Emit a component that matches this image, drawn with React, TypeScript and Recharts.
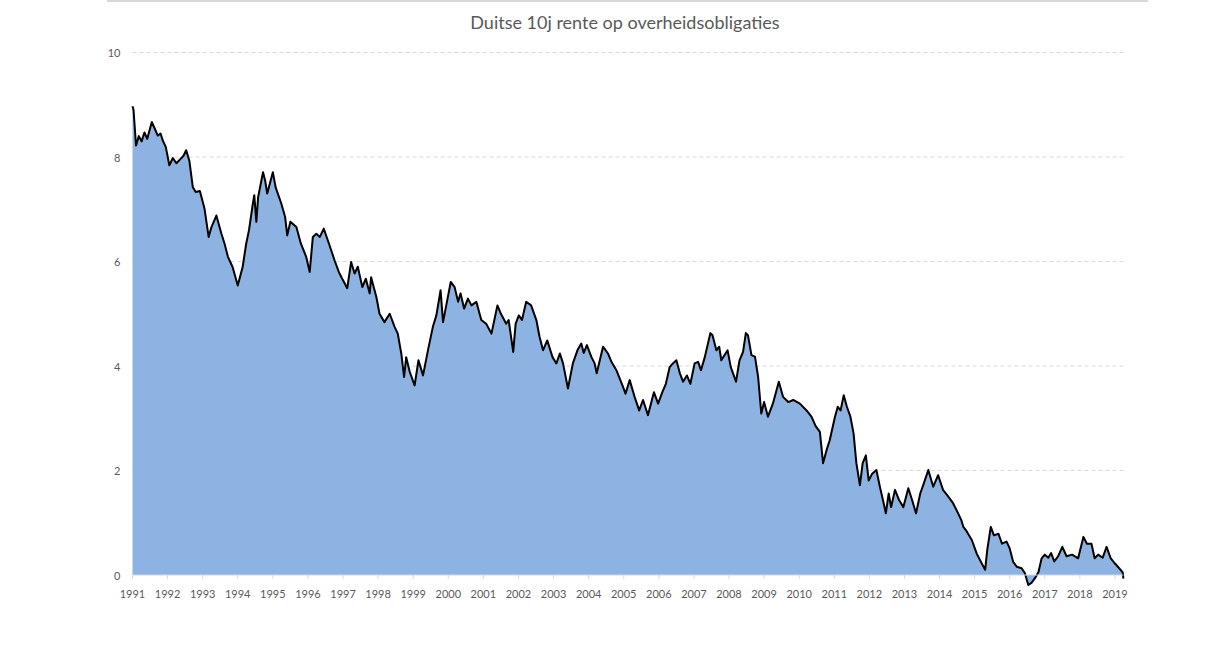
import { AreaChart, Area, XAxis, YAxis, CartesianGrid, ReferenceLine } from "recharts";

// decimal year of each reading
const dates = [
  1991.0, 1991.03, 1991.1, 1991.18, 1991.26, 1991.34, 1991.42, 1991.55, 1991.63, 1991.72, 1991.8, 1991.86, 1991.95,
  1992.05, 1992.15, 1992.25, 1992.35, 1992.45, 1992.53, 1992.62, 1992.72, 1992.8, 1992.92,
  1993.05, 1993.17, 1993.25, 1993.39, 1993.53, 1993.62, 1993.72, 1993.85,
  1994.0, 1994.14, 1994.24, 1994.32, 1994.43, 1994.47, 1994.53, 1994.58, 1994.72, 1994.78, 1994.84,
  1995.0, 1995.08, 1995.24, 1995.35, 1995.41, 1995.5, 1995.67, 1995.8, 1995.95,
  1996.05, 1996.14, 1996.24, 1996.34, 1996.45, 1996.6, 1996.76, 1996.88,
  1997.0, 1997.12, 1997.23, 1997.33, 1997.42, 1997.55, 1997.65, 1997.76, 1997.8, 1997.95,
  1998.04, 1998.18, 1998.33, 1998.47, 1998.56, 1998.66, 1998.74, 1998.8, 1998.9,
  1999.04, 1999.15, 1999.28, 1999.42, 1999.56, 1999.66, 1999.78, 1999.85, 1999.95,
  2000.07, 2000.18, 2000.28, 2000.35, 2000.45, 2000.56, 2000.66, 2000.8, 2000.94,
  2001.08, 2001.23, 2001.4, 2001.5, 2001.65, 2001.72, 2001.85, 2001.92,
  2002.01, 2002.1, 2002.22, 2002.36, 2002.51, 2002.6, 2002.7, 2002.82, 2002.97,
  2003.08, 2003.18, 2003.27, 2003.41, 2003.55, 2003.68, 2003.79, 2003.86, 2003.95,
  2004.08, 2004.17, 2004.23, 2004.41, 2004.55, 2004.65, 2004.79, 2004.98,
  2005.05, 2005.17, 2005.31, 2005.44, 2005.55, 2005.69, 2005.86, 2005.98,
  2006.1, 2006.2, 2006.31, 2006.4, 2006.5, 2006.6, 2006.69, 2006.8, 2006.9,
  2007.02, 2007.12, 2007.2, 2007.31, 2007.47, 2007.53, 2007.64, 2007.72, 2007.78, 2007.96,
  2008.05, 2008.2, 2008.3, 2008.4, 2008.48, 2008.54, 2008.64, 2008.74, 2008.83, 2008.92,
  2009.0, 2009.11, 2009.25, 2009.42, 2009.54, 2009.69, 2009.83,
  2010.02, 2010.21, 2010.35, 2010.47, 2010.59, 2010.68, 2010.78, 2010.87,
  2011.02, 2011.1, 2011.18, 2011.27, 2011.36, 2011.46, 2011.55, 2011.63, 2011.73, 2011.81, 2011.9, 2011.98,
  2012.08, 2012.2, 2012.3, 2012.41, 2012.47, 2012.55, 2012.62, 2012.73, 2012.85, 2012.97,
  2013.11, 2013.22, 2013.33, 2013.45, 2013.55, 2013.68, 2013.82, 2013.96,
  2014.1, 2014.25, 2014.39, 2014.53, 2014.62, 2014.68, 2014.75, 2014.92,
  2015.06, 2015.15, 2015.3, 2015.36, 2015.46, 2015.55, 2015.68, 2015.78, 2015.91,
  2016.0, 2016.1, 2016.2, 2016.34, 2016.43, 2016.53, 2016.62, 2016.72, 2016.82, 2016.91,
  2017.0, 2017.1, 2017.18, 2017.27, 2017.38, 2017.5, 2017.62, 2017.78, 2017.95,
  2018.1, 2018.2, 2018.33, 2018.42, 2018.52, 2018.65, 2018.76, 2018.88,
  2019.0, 2019.12, 2019.22, 2019.24,
];

// 10y yield (%) at each date above
const yields = [
  8.97, 8.9, 8.22, 8.4, 8.3, 8.47, 8.35, 8.67, 8.55, 8.41, 8.45, 8.32, 8.19,
  7.84, 7.98, 7.88, 7.95, 8.02, 8.13, 7.93, 7.42, 7.33, 7.35,
  7.02, 6.47, 6.66, 6.88, 6.54, 6.35, 6.09, 5.9,
  5.54, 5.9, 6.34, 6.6, 7.11, 7.27, 6.76, 7.23, 7.71, 7.55, 7.3,
  7.71, 7.42, 7.11, 6.85, 6.5, 6.76, 6.66, 6.34, 6.09,
  5.8, 6.47, 6.53, 6.47, 6.63, 6.34, 6.02, 5.8,
  5.64, 5.49, 5.99, 5.77, 5.9, 5.51, 5.67, 5.39, 5.7, 5.32,
  5.0, 4.84, 5.0, 4.75, 4.62, 4.24, 3.79, 4.17, 3.89,
  3.63, 4.11, 3.82, 4.3, 4.75, 4.97, 5.45, 4.84, 5.19,
  5.61, 5.51, 5.23, 5.39, 5.1, 5.29, 5.16, 5.23, 4.88,
  4.81, 4.62, 5.16, 5.0, 4.81, 4.88, 4.27, 4.81,
  4.97, 4.88, 5.23, 5.16, 4.88, 4.56, 4.3, 4.49, 4.17,
  4.05, 4.24, 4.05, 3.57, 4.05, 4.3, 4.43, 4.25, 4.4,
  4.17, 4.05, 3.86, 4.37, 4.24, 4.08, 3.92, 3.6,
  3.47, 3.73, 3.41, 3.15, 3.35, 3.06, 3.5, 3.28,
  3.5, 3.66, 3.98, 4.05, 4.11, 3.86, 3.7, 3.82, 3.66,
  4.05, 4.08, 3.92, 4.17, 4.63, 4.59, 4.3, 4.37, 4.11, 4.3,
  3.98, 3.7, 4.11, 4.27, 4.63, 4.59, 4.21, 4.18, 3.79, 3.09,
  3.31, 3.03, 3.28, 3.7, 3.41, 3.31, 3.35,
  3.28, 3.15, 3.03, 2.85, 2.74, 2.14, 2.39, 2.58,
  3.03, 3.22, 3.15, 3.44, 3.22, 3.03, 2.71, 2.14, 1.72, 2.14, 2.29, 1.81,
  1.94, 2.01, 1.69, 1.37, 1.18, 1.56, 1.3, 1.63, 1.43, 1.3,
  1.66, 1.43, 1.18, 1.56, 1.75, 2.01, 1.69, 1.91,
  1.63, 1.5, 1.37, 1.18, 1.05, 0.92, 0.86, 0.67,
  0.41, 0.29, 0.1, 0.48, 0.92, 0.76, 0.79, 0.6, 0.64,
  0.51, 0.25, 0.16, 0.13, 0.04, -0.19, -0.15, -0.06, 0.06, 0.32,
  0.39, 0.33, 0.42, 0.26, 0.36, 0.54, 0.36, 0.39, 0.32,
  0.73, 0.6, 0.6, 0.32, 0.39, 0.33, 0.54, 0.32,
  0.22, 0.13, 0.05, -0.07,
];

const yearTicks = [
  1991, 1992, 1993, 1994, 1995, 1996, 1997, 1998, 1999, 2000, 2001, 2002, 2003, 2004, 2005,
  2006, 2007, 2008, 2009, 2010, 2011, 2012, 2013, 2014, 2015, 2016, 2017, 2018, 2019,
];
const valueTicks = [0, 2, 4, 6, 8, 10];
const gridValues = [2, 4, 6, 8, 10];

const data = dates.map((t, i) => ({ t, rente: yields[i] }));

const FONT = "Lato, 'Open Sans', sans-serif";
const LABEL = "#595959";
const LIGHT = "#d9d9d9";

function YearTick({ x, y, payload }: any) {
  // y is the bottom of the plot (value -0.25); the 0 line sits 13px above it
  return (
    <g>
      <line x1={x} x2={x} y1={y - 13} y2={y - 9} stroke={LIGHT} />
      <text x={x} y={y + 5} textAnchor="middle" dominantBaseline="central" fontSize={11} fontFamily={FONT} fill={LABEL}>
        {payload.value}
      </text>
    </g>
  );
}

function ValueTick({ x, y, payload }: any) {
  return (
    <text x={x - 12} y={y} textAnchor="end" dominantBaseline="central" fontSize={11} fontFamily={FONT} fill={LABEL}>
      {payload.value}
    </text>
  );
}

export default function App() {
  return (
    <div style={{ position: "absolute", left: 0, top: 0, width: 1220, height: 645, background: "#fff" }}>
      <div style={{ position: "absolute", left: 107, top: 0, width: 1041, height: 2, background: LIGHT }} />
      <div
        style={{
          position: "absolute",
          left: 0,
          top: 11,
          width: 1250,
          textAlign: "center",
          fontFamily: FONT,
          fontSize: 18,
          color: LABEL,
        }}
      >
        Duitse 10j rente op overheidsobligaties
      </div>
      <AreaChart
        width={1220}
        height={645}
        data={data}
        margin={{ top: 52.5, right: 96.6, bottom: 26.9, left: 92.5 }}
      >
        <CartesianGrid horizontal vertical={false} horizontalValues={gridValues} stroke={LIGHT} strokeDasharray="4 3" />
        <XAxis
          dataKey="t"
          type="number"
          domain={[1991, 2019.24]}
          ticks={yearTicks}
          interval={0}
          axisLine={false}
          tickLine={false}
          tickSize={0}
          tickMargin={0}
          height={30}
          tick={<YearTick />}
        />
        <YAxis
          type="number"
          domain={[-0.25, 10]}
          allowDataOverflow
          ticks={valueTicks}
          axisLine={false}
          tickLine={false}
          tickSize={0}
          tickMargin={0}
          width={40}
          tick={<ValueTick />}
        />
        <ReferenceLine y={0} stroke={LIGHT} />
        <Area
          type="linear"
          dataKey="rente"
          stroke="#000"
          strokeWidth={2}
          strokeLinejoin="round"
          fill="#8db3e2"
          fillOpacity={1}
          isAnimationActive={false}
          dot={false}
          activeDot={false}
        />
      </AreaChart>
    </div>
  );
}
